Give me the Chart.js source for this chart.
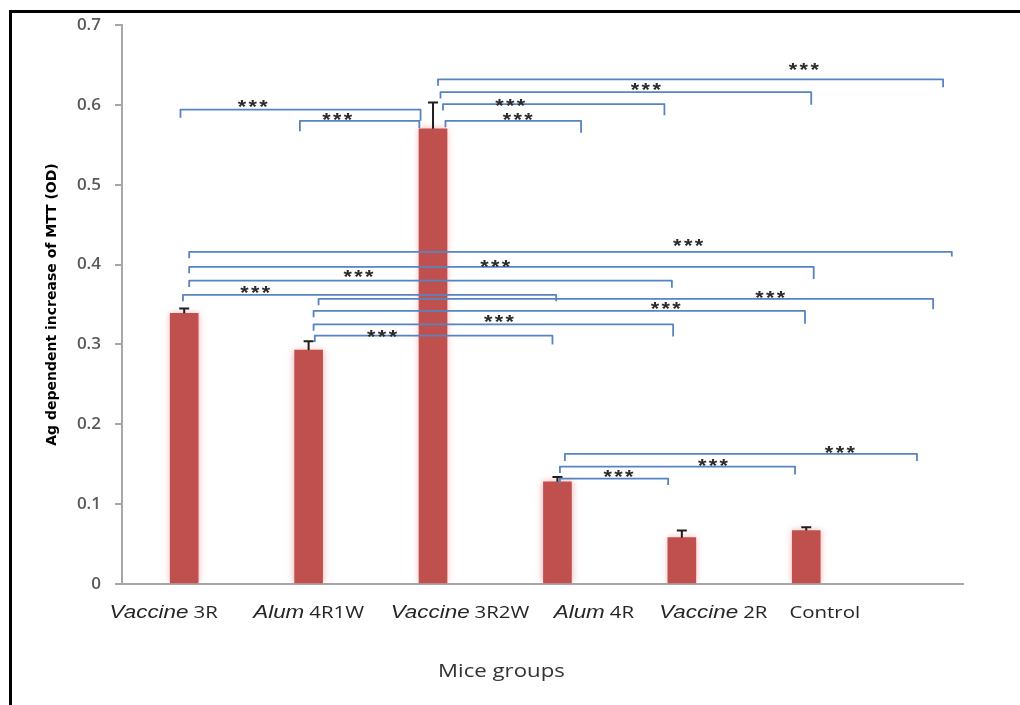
<!DOCTYPE html>
<html>
<head>
<meta charset="utf-8">
<script src="https://cdn.jsdelivr.net/npm/chart.js@4/dist/chart.umd.min.js"></script>
<style>
  html, body { margin: 0; padding: 0; background: #fff; overflow: hidden; }
  #wrap { position: relative; width: 1020px; height: 705px; }
</style>
</head>
<body>
<div id="wrap"><canvas id="mtt" width="1020" height="705"></canvas></div>
<script>
// Mice groups: adjuvant (italic) + immunisation schedule
const adjuvants = ['Vaccine', 'Alum', 'Vaccine', 'Alum', 'Vaccine', ''];
const schedules = ['3R', '4R1W', '3R2W', '4R', '2R', 'Control'];

// Ag dependent increase of MTT (OD), mean and SEM
const mttOD  = [0.339, 0.293, 0.570, 0.128, 0.058, 0.067];
const mttSEM = [0.006, 0.011, 0.033, 0.006, 0.009, 0.004];

// y axis range and step
const yMin = 0, yMax = 0.7, yStep = 0.1;

// significance label for every comparison
const sigLabel = '***';

// comparison brackets: from/to in category units, level in OD,
// end drops in OD, label position (category units, OD)
const brackets = [
  { from: -0.03, to: 1.90, y: 0.594, dl: 0.010, dr: 0.014, sx: 0.56, sy: 0.603 },
  { from: 0.93,  to: 1.89, y: 0.580, dl: 0.013, dr: 0.009, sx: 1.24, sy: 0.586 },
  { from: 2.04,  to: 6.10, y: 0.632, dl: 0.008, dr: 0.010, sx: 4.99, sy: 0.649 },
  { from: 2.06,  to: 5.04, y: 0.616, dl: 0.008, dr: 0.016, sx: 3.72, sy: 0.624 },
  { from: 2.08,  to: 3.86, y: 0.601, dl: 0.008, dr: 0.014, sx: 2.63, sy: 0.604 },
  { from: 2.10,  to: 3.19, y: 0.580, dl: 0.008, dr: 0.015, sx: 2.69, sy: 0.586 },
  { from: 0.04,  to: 6.17, y: 0.416, dl: 0.008, dr: 0.006, sx: 4.06, sy: 0.429 },
  { from: 0.04,  to: 5.06, y: 0.397, dl: 0.008, dr: 0.015, sx: 2.51, sy: 0.403 },
  { from: 0.04,  to: 3.92, y: 0.380, dl: 0.008, dr: 0.009, sx: 1.41, sy: 0.390 },
  { from: -0.01, to: 2.99, y: 0.362, dl: 0.008, dr: 0.008, sx: 0.58, sy: 0.370 },
  { from: 1.08,  to: 6.02, y: 0.357, dl: 0.008, dr: 0.013, sx: 4.72, sy: 0.364 },
  { from: 1.04,  to: 4.99, y: 0.342, dl: 0.008, dr: 0.016, sx: 3.88, sy: 0.350 },
  { from: 1.04,  to: 3.93, y: 0.325, dl: 0.008, dr: 0.015, sx: 2.54, sy: 0.334 },
  { from: 1.05,  to: 2.96, y: 0.311, dl: 0.008, dr: 0.011, sx: 1.60, sy: 0.315 },
  { from: 3.06,  to: 5.89, y: 0.163, dl: 0.009, dr: 0.009, sx: 5.28, sy: 0.169 },
  { from: 3.02,  to: 4.91, y: 0.147, dl: 0.008, dr: 0.010, sx: 4.26, sy: 0.153 },
  { from: 3.02,  to: 3.89, y: 0.132, dl: 0.006, dr: 0.008, sx: 3.50, sy: 0.139 }
];

// horizontal placement of the group labels (category units)
const labelShift = [-0.165, 0, 0.217, 0.293, 0.253, 0.149];
const xAxisEnd = 6.26;
const X_STRETCH = 1.2;

const categories = schedules.map((s, i) => (adjuvants[i] ? adjuvants[i] + ' ' : '') + s);

function drawStretched(ctx, text, x, y, font, color, spacing) {
  ctx.save();
  ctx.font = font;
  ctx.fillStyle = color;
  ctx.letterSpacing = spacing || '0px';
  ctx.textAlign = 'left';
  ctx.textBaseline = 'alphabetic';
  ctx.translate(x, y);
  ctx.scale(X_STRETCH, 1);
  ctx.fillText(text, 0, 0);
  ctx.restore();
}
function measureStretched(ctx, text, font, spacing) {
  ctx.save();
  ctx.font = font;
  ctx.letterSpacing = spacing || '0px';
  const w = ctx.measureText(text).width * X_STRETCH;
  ctx.restore();
  return w;
}

// page frame and white background
const framePlugin = {
  id: 'frame',
  beforeDraw(chart) {
    const ctx = chart.ctx;
    ctx.save();
    ctx.fillStyle = '#fff';
    ctx.fillRect(0, 0, chart.width, chart.height);
    ctx.strokeStyle = '#000';
    ctx.lineWidth = 3;
    ctx.beginPath();
    ctx.moveTo(10.5, chart.height + 5);
    ctx.lineTo(10.5, 11.5);
    ctx.lineTo(chart.width + 5, 11.5);
    ctx.stroke();
    ctx.restore();
  }
};

// soft pink edge around the bars
const glowPlugin = {
  id: 'glow',
  beforeDatasetDraw(chart) {
    const ctx = chart.ctx;
    ctx.save();
    ctx.shadowColor = 'rgba(236,150,150,0.8)';
    ctx.shadowBlur = 7;
  },
  afterDatasetDraw(chart) {
    chart.ctx.restore();
  }
};

// SEM error bars, brackets, significance marks and group labels
const overlayPlugin = {
  id: 'overlay',
  afterDatasetsDraw(chart) {
    const ctx = chart.ctx;
    const xs = chart.scales.x, ys = chart.scales.y;
    const meta = chart.getDatasetMeta(0);

    ctx.save();
    ctx.strokeStyle = '#1e1e1e';
    ctx.lineWidth = 2;
    meta.data.forEach((bar, i) => {
      const top = ys.getPixelForValue(mttOD[i]);
      const errTop = ys.getPixelForValue(mttOD[i] + mttSEM[i]);
      ctx.beginPath();
      ctx.moveTo(bar.x, top);
      ctx.lineTo(bar.x, errTop);
      ctx.moveTo(bar.x - 5, errTop);
      ctx.lineTo(bar.x + 5, errTop);
      ctx.stroke();
    });
    ctx.restore();

    ctx.save();
    ctx.strokeStyle = 'rgb(86,132,192)';
    ctx.lineWidth = 1.8;
    ctx.lineJoin = 'round';
    brackets.forEach(b => {
      const x1 = xs.getPixelForValue(b.from), x2 = xs.getPixelForValue(b.to);
      const y = ys.getPixelForValue(b.y);
      ctx.beginPath();
      ctx.moveTo(x1, ys.getPixelForValue(b.y - b.dl));
      ctx.lineTo(x1, y);
      ctx.lineTo(x2, y);
      ctx.lineTo(x2, ys.getPixelForValue(b.y - b.dr));
      ctx.stroke();
    });
    ctx.restore();

    const starSize = 18;
    const starFont = 'bold ' + starSize + 'px "Liberation Sans"';
    brackets.forEach(b => {
      const cx = xs.getPixelForValue(b.sx);
      const cy = ys.getPixelForValue(b.sy);
      const w = measureStretched(ctx, sigLabel, starFont, '2px');
      drawStretched(ctx, sigLabel, cx - w / 2, cy + 0.58 * starSize, starFont, '#2b2b2b', '2px');
    });

    // group labels under the axis
    const italicFont = 'italic 18.7px "Liberation Sans"';
    const plainFont = '17px "Open Sans"';
    const base = chart.chartArea.bottom + 34;
    categories.forEach((c, i) => {
      const a = adjuvants[i], s = schedules[i];
      const wa = a ? measureStretched(ctx, a, italicFont) : 0;
      const gap = a ? 5 : 0;
      const ws = measureStretched(ctx, s, plainFont);
      const cx = xs.getPixelForValue(i + labelShift[i]);
      const x = cx - (wa + gap + ws) / 2;
      if (a) drawStretched(ctx, a, x, base, italicFont, '#262626');
      drawStretched(ctx, s, x + wa + gap, base, plainFont, '#262626');
    });

    // x axis title
    const tFont = '18.5px "Open Sans"';
    const tw = measureStretched(ctx, 'Mice groups', tFont);
    drawStretched(ctx, 'Mice groups', xs.getPixelForValue(2.55) - tw / 2,
      chart.chartArea.bottom + 93, tFont, '#333');
  }
};

new Chart(document.getElementById('mtt'), {
  type: 'bar',
  data: {
    labels: categories,
    datasets: [{
      label: 'Ag dependent increase of MTT (OD)',
      data: mttOD.map((v, i) => ({ x: i, y: v })),
      backgroundColor: '#C0504D',
      borderWidth: 0,
      barThickness: 28
    }]
  },
  options: {
    responsive: false,
    animation: false,
    events: [],
    layout: { padding: { top: 25, right: 57, left: 0, bottom: 0 } },
    plugins: {
      legend: { display: false },
      tooltip: { enabled: false }
    },
    scales: {
      x: {
        type: 'linear',
        min: -0.5,
        max: xAxisEnd,
        offset: false,
        grid: { display: false, offset: false },
        border: { display: true, color: '#A6A6A6', width: 2 },
        ticks: { display: false },
        afterFit(s) { s.height = 121; }
      },
      y: {
        min: yMin,
        max: yMax,
        ticks: {
          stepSize: yStep,
          color: '#595959',
          font: { family: 'Open Sans', size: 17, weight: '600' },
          padding: 14
        },
        grid: { drawOnChartArea: false, drawTicks: true, tickLength: 7, color: '#A6A6A6', lineWidth: 2 },
        border: { display: true, color: '#A6A6A6', width: 2 },
        title: {
          display: true,
          text: 'Ag dependent increase of MTT (OD)',
          color: '#000',
          font: { family: 'DejaVu Sans', size: 14, weight: 'bold' },
          padding: { top: 44, bottom: 0 }
        },
        afterFit(s) { s.width = 122; }
      }
    }
  },
  plugins: [framePlugin, glowPlugin, overlayPlugin]
});
</script>
</body>
</html>
